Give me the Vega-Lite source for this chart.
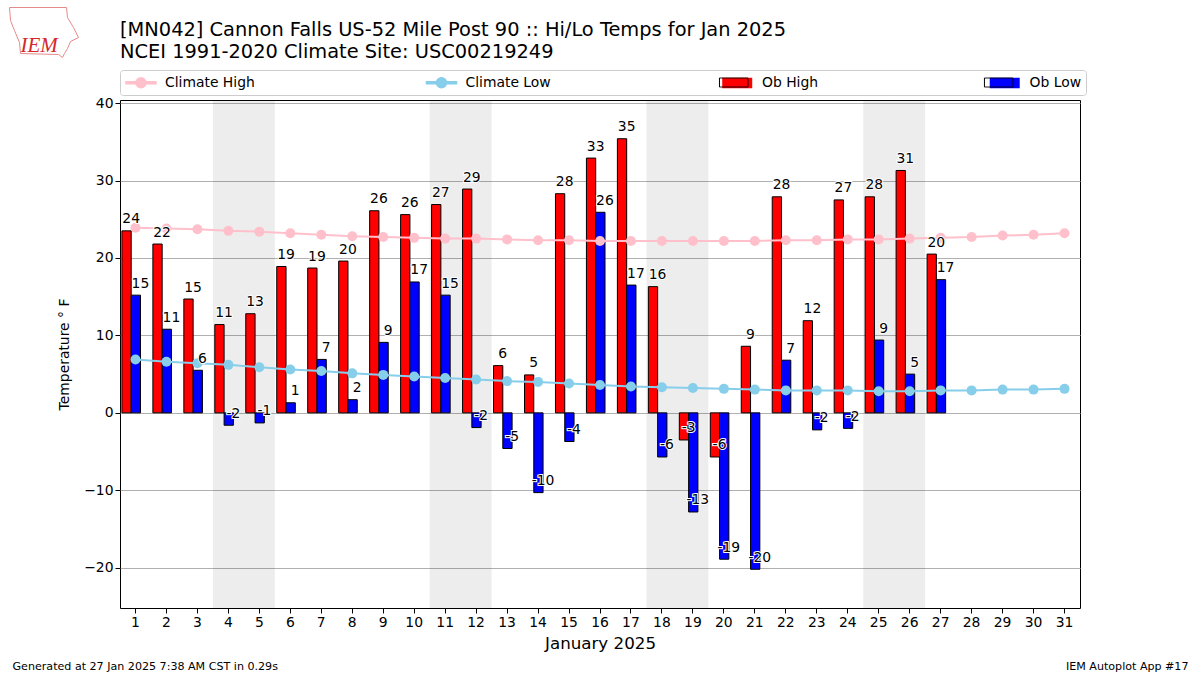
{"$schema":"https://vega.github.io/schema/vega-lite/v6.json","width":960,"height":508,"autosize":{"type":"none"},"padding":{"left":120,"top":100,"right":120,"bottom":67},"background":"white","config":{"font":"DejaVu Sans","view":{"stroke":"black","strokeWidth":1}},"title":{"text":["[MN042] Cannon Falls US-52 Mile Post 90 :: Hi/Lo Temps for Jan 2025","NCEI 1991-2020 Climate Site: USC00219249"],"anchor":"start","frame":"group","fontSize":19.4,"fontWeight":"normal","lineHeight":21.5,"offset":-55,"color":"black"},"datasets":{"obs":[{"day":1,"series":"Ob High","value":23.5,"label":"24"},{"day":2,"series":"Ob High","value":21.8,"label":"22"},{"day":3,"series":"Ob High","value":14.7,"label":"15"},{"day":4,"series":"Ob High","value":11.4,"label":"11"},{"day":5,"series":"Ob High","value":12.8,"label":"13"},{"day":6,"series":"Ob High","value":18.9,"label":"19"},{"day":7,"series":"Ob High","value":18.7,"label":"19"},{"day":8,"series":"Ob High","value":19.6,"label":"20"},{"day":9,"series":"Ob High","value":26.1,"label":"26"},{"day":10,"series":"Ob High","value":25.6,"label":"26"},{"day":11,"series":"Ob High","value":26.9,"label":"27"},{"day":12,"series":"Ob High","value":28.9,"label":"29"},{"day":13,"series":"Ob High","value":6.1,"label":"6"},{"day":14,"series":"Ob High","value":4.9,"label":"5"},{"day":15,"series":"Ob High","value":28.3,"label":"28"},{"day":16,"series":"Ob High","value":32.9,"label":"33"},{"day":17,"series":"Ob High","value":35.4,"label":"35"},{"day":18,"series":"Ob High","value":16.3,"label":"16"},{"day":19,"series":"Ob High","value":-3.5,"label":"-3"},{"day":20,"series":"Ob High","value":-5.7,"label":"-6"},{"day":21,"series":"Ob High","value":8.6,"label":"9"},{"day":22,"series":"Ob High","value":27.9,"label":"28"},{"day":23,"series":"Ob High","value":11.9,"label":"12"},{"day":24,"series":"Ob High","value":27.5,"label":"27"},{"day":25,"series":"Ob High","value":27.9,"label":"28"},{"day":26,"series":"Ob High","value":31.3,"label":"31"},{"day":27,"series":"Ob High","value":20.5,"label":"20"},{"day":1,"series":"Ob Low","value":15.2,"label":"15"},{"day":2,"series":"Ob Low","value":10.8,"label":"11"},{"day":3,"series":"Ob Low","value":5.5,"label":"6"},{"day":4,"series":"Ob Low","value":-1.6,"label":"-2"},{"day":5,"series":"Ob Low","value":-1.3,"label":"-1"},{"day":6,"series":"Ob Low","value":1.3,"label":"1"},{"day":7,"series":"Ob Low","value":6.9,"label":"7"},{"day":8,"series":"Ob Low","value":1.7,"label":"2"},{"day":9,"series":"Ob Low","value":9.1,"label":"9"},{"day":10,"series":"Ob Low","value":16.9,"label":"17"},{"day":11,"series":"Ob Low","value":15.2,"label":"15"},{"day":12,"series":"Ob Low","value":-1.9,"label":"-2"},{"day":13,"series":"Ob Low","value":-4.6,"label":"-5"},{"day":14,"series":"Ob Low","value":-10.3,"label":"-10"},{"day":15,"series":"Ob Low","value":-3.7,"label":"-4"},{"day":16,"series":"Ob Low","value":25.9,"label":"26"},{"day":17,"series":"Ob Low","value":16.5,"label":"17"},{"day":18,"series":"Ob Low","value":-5.7,"label":"-6"},{"day":19,"series":"Ob Low","value":-12.8,"label":"-13"},{"day":20,"series":"Ob Low","value":-18.9,"label":"-19"},{"day":21,"series":"Ob Low","value":-20.2,"label":"-20"},{"day":22,"series":"Ob Low","value":6.8,"label":"7"},{"day":23,"series":"Ob Low","value":-2.2,"label":"-2"},{"day":24,"series":"Ob Low","value":-2.0,"label":"-2"},{"day":25,"series":"Ob Low","value":9.4,"label":"9"},{"day":26,"series":"Ob Low","value":5.0,"label":"5"},{"day":27,"series":"Ob Low","value":17.2,"label":"17"}],"climate":[{"day":1,"series":"Climate High","value":23.9},{"day":2,"series":"Climate High","value":23.8},{"day":3,"series":"Climate High","value":23.7},{"day":4,"series":"Climate High","value":23.5},{"day":5,"series":"Climate High","value":23.4},{"day":6,"series":"Climate High","value":23.2},{"day":7,"series":"Climate High","value":23.0},{"day":8,"series":"Climate High","value":22.8},{"day":9,"series":"Climate High","value":22.7},{"day":10,"series":"Climate High","value":22.6},{"day":11,"series":"Climate High","value":22.5},{"day":12,"series":"Climate High","value":22.5},{"day":13,"series":"Climate High","value":22.4},{"day":14,"series":"Climate High","value":22.3},{"day":15,"series":"Climate High","value":22.3},{"day":16,"series":"Climate High","value":22.2},{"day":17,"series":"Climate High","value":22.2},{"day":18,"series":"Climate High","value":22.2},{"day":19,"series":"Climate High","value":22.2},{"day":20,"series":"Climate High","value":22.2},{"day":21,"series":"Climate High","value":22.2},{"day":22,"series":"Climate High","value":22.3},{"day":23,"series":"Climate High","value":22.3},{"day":24,"series":"Climate High","value":22.4},{"day":25,"series":"Climate High","value":22.4},{"day":26,"series":"Climate High","value":22.5},{"day":27,"series":"Climate High","value":22.6},{"day":28,"series":"Climate High","value":22.7},{"day":29,"series":"Climate High","value":22.9},{"day":30,"series":"Climate High","value":23.0},{"day":31,"series":"Climate High","value":23.2},{"day":1,"series":"Climate Low","value":6.9},{"day":2,"series":"Climate Low","value":6.6},{"day":3,"series":"Climate Low","value":6.4},{"day":4,"series":"Climate Low","value":6.2},{"day":5,"series":"Climate Low","value":5.9},{"day":6,"series":"Climate Low","value":5.6},{"day":7,"series":"Climate Low","value":5.4},{"day":8,"series":"Climate Low","value":5.1},{"day":9,"series":"Climate Low","value":4.9},{"day":10,"series":"Climate Low","value":4.7},{"day":11,"series":"Climate Low","value":4.5},{"day":12,"series":"Climate Low","value":4.3},{"day":13,"series":"Climate Low","value":4.1},{"day":14,"series":"Climate Low","value":4.0},{"day":15,"series":"Climate Low","value":3.8},{"day":16,"series":"Climate Low","value":3.6},{"day":17,"series":"Climate Low","value":3.4},{"day":18,"series":"Climate Low","value":3.3},{"day":19,"series":"Climate Low","value":3.2},{"day":20,"series":"Climate Low","value":3.1},{"day":21,"series":"Climate Low","value":3.0},{"day":22,"series":"Climate Low","value":2.9},{"day":23,"series":"Climate Low","value":2.9},{"day":24,"series":"Climate Low","value":2.9},{"day":25,"series":"Climate Low","value":2.8},{"day":26,"series":"Climate Low","value":2.8},{"day":27,"series":"Climate Low","value":2.9},{"day":28,"series":"Climate Low","value":2.9},{"day":29,"series":"Climate Low","value":3.0},{"day":30,"series":"Climate Low","value":3.0},{"day":31,"series":"Climate Low","value":3.1}],"weekend":[{"day":4},{"day":5},{"day":11},{"day":12},{"day":18},{"day":19},{"day":25},{"day":26}],"legendRows":[{"day":1,"series":"Climate High"},{"day":1,"series":"Climate Low"},{"day":1,"series":"Ob High"},{"day":1,"series":"Ob Low"}],"one":[{"day":1,"outline":"outline","wires":"wires","border":"border"}]},"resolve":{"axis":{"x":"independent"}},"layer":[{"data":{"name":"weekend"},"mark":{"type":"bar","fill":"black","fillOpacity":0.07,"stroke":null},"encoding":{"x":{"field":"day","type":"ordinal","scale":{"domain":[1,2,3,4,5,6,7,8,9,10,11,12,13,14,15,16,17,18,19,20,21,22,23,24,25,26,27,28,29,30,31],"paddingInner":0,"paddingOuter":0},"axis":{"labelAngle":0,"labelFontSize":13.9,"labelColor":"black","tickColor":"black","tickSize":5,"domain":false,"grid":false,"title":"January 2025","titleFontSize":16.7,"titleFontWeight":"normal","titlePadding":7,"titleColor":"black"}}}},{"data":{"name":"obs"},"mark":{"type":"bar","stroke":"black","strokeWidth":1},"encoding":{"x":{"field":"day","type":"ordinal","axis":null},"xOffset":{"field":"series","type":"nominal","scale":{"domain":["Ob High","Ob Low"],"paddingInner":0,"paddingOuter":0.667,"align":0.154}},"y":{"field":"value","type":"quantitative","scale":{"domain":[-25.2,40.4],"nice":false,"zero":false},"axis":{"values":[-20,-10,0,10,20,30,40],"grid":true,"gridColor":"#b0b0b0","gridWidth":1,"domain":false,"labelFontSize":13.9,"labelColor":"black","tickColor":"black","tickSize":5,"title":"Temperature ° F","titleFontSize":13.9,"titleFontWeight":"normal","titleColor":"black","titlePadding":12}},"color":{"field":"series","type":"nominal","scale":{"domain":["Climate High","Climate Low","Ob High","Ob Low"],"range":["pink","skyblue","red","blue"]}}}},{"data":{"name":"climate"},"mark":{"type":"line","strokeWidth":2},"encoding":{"x":{"field":"day","type":"ordinal","axis":null},"y":{"field":"value","type":"quantitative"},"color":{"field":"series","type":"nominal"}}},{"data":{"name":"climate"},"mark":{"type":"circle","size":100,"opacity":1},"encoding":{"x":{"field":"day","type":"ordinal","axis":null},"y":{"field":"value","type":"quantitative"},"color":{"field":"series","type":"nominal"}}},{"data":{"name":"obs"},"mark":{"type":"text","fontSize":13.9,"dx":4.6,"dy":-11.5,"baseline":"middle","align":"center","stroke":"white","strokeWidth":2,"fill":"white"},"encoding":{"x":{"field":"day","type":"ordinal","axis":null},"xOffset":{"field":"series","type":"nominal"},"y":{"field":"value","type":"quantitative"},"text":{"field":"label","type":"nominal"}}},{"data":{"name":"obs"},"mark":{"type":"text","fontSize":13.9,"dx":4.6,"dy":-11.5,"baseline":"middle","align":"center","fill":"black"},"encoding":{"x":{"field":"day","type":"ordinal","axis":null},"xOffset":{"field":"series","type":"nominal"},"y":{"field":"value","type":"quantitative"},"text":{"field":"label","type":"nominal"}}},{"data":{"name":"legendRows"},"mark":{"type":"point","filled":true,"opacity":0},"encoding":{"x":{"field":"day","type":"ordinal","axis":null},"color":{"field":"series","type":"nominal","title":null,"legend":{"orient":"none","legendX":0,"legendY":-30,"direction":"horizontal","columns":4,"columnPadding":167.5,"padding":4,"strokeColor":"#cccccc","cornerRadius":3,"symbolSize":225,"symbolOpacity":1,"labelOffset":24,"labelFontSize":13.9,"labelColor":"black","title":null,"encoding":{"symbols":{"fill":{"signal":"scale('color',datum.value)"}}}}},"shape":{"field":"series","type":"nominal","title":null,"scale":{"domain":["Climate High","Climate Low","Ob High","Ob Low"],"range":["M-0.87,-0.13H3.13V0.13H-0.87Z M1.13,-0.67A0.67,0.67 0 1,1 1.13,0.67A0.67,0.67 0 1,1 1.13,-0.67Z","M-0.87,-0.13H3.13V0.13H-0.87Z M1.13,-0.67A0.67,0.67 0 1,1 1.13,0.67A0.67,0.67 0 1,1 1.13,-0.67Z","M-0.87,-0.6H2.93V0.6H-0.87Z","M-0.87,-0.6H2.93V0.6H-0.87Z"]},"legend":{"orient":"none","legendX":0,"legendY":-30,"direction":"horizontal","columns":4,"title":null}}}},{"data":{"name":"one"},"mark":{"type":"point","opacity":0},"encoding":{"x":{"field":"day","type":"ordinal","axis":{"labels":false,"ticks":false,"domain":false,"grid":false,"title":"Generated at 27 Jan 2025 7:38 AM CST in 0.29s","titleFontSize":11.1,"titleFontWeight":"normal","titleColor":"black","titleAlign":"left","titleX":-108,"titleY":566,"titleBaseline":"middle"}}}},{"data":{"name":"one"},"mark":{"type":"point","opacity":0},"encoding":{"x":{"field":"day","type":"ordinal","axis":{"labels":false,"ticks":false,"domain":false,"grid":false,"title":"IEM Autoplot App #17","titleFontSize":11.1,"titleFontWeight":"normal","titleColor":"black","titleAlign":"right","titleX":1068,"titleY":566,"titleBaseline":"middle"}}}},{"data":{"name":"one"},"mark":{"type":"point","opacity":0},"encoding":{"x":{"field":"day","type":"ordinal","axis":{"labels":false,"ticks":false,"domain":false,"grid":false,"title":"IEM","titleFont":"Liberation Serif","titleFontSize":21,"titleFontStyle":"italic","titleFontWeight":"normal","titleColor":"#d62728","titleAlign":"left","titleX":-100,"titleY":-55,"titleBaseline":"middle"}}}},{"data":{"name":"one"},"mark":{"type":"point","opacity":0},"encoding":{"x":{"field":"day","type":"ordinal","axis":null},"size":{"field":"outline","type":"nominal","scale":{"domain":["outline"],"range":[2500,2500]},"legend":{"orient":"none","legendX":-101,"legendY":-93,"padding":0,"title":null,"symbolType":"M-1.4,-1L0.88,-1L0.92,-0.6L1.16,-0.2L1.36,0.2L1.04,0.36L0.92,0.64L0.8,0.84L0.72,1L0.56,0.88L-0.96,0.84L-1,0.4L-1.2,-0.08L-1.36,-0.48Z","symbolFillColor":"transparent","symbolStrokeColor":"#e58a8a","symbolStrokeWidth":1,"symbolOpacity":1,"labelExpr":"''","labelOffset":0,"labelFontSize":1}}}},{"data":{"name":"one"},"mark":{"type":"point","filled":true,"opacity":0},"encoding":{"x":{"field":"day","type":"ordinal","axis":null},"strokeWidth":{"field":"wires","type":"ordinal","scale":{"domain":["wires"],"range":[0,0]},"legend":{"orient":"none","legendX":-101,"legendY":-93,"padding":0,"title":null,"symbolSize":2500,"symbolType":"M-0.52,-0.26L0.88,-0.32L0.88,-0.26L-0.52,-0.18Z M-0.64,-0.2A0.12,0.12 0 1,1 -0.4,-0.2A0.12,0.12 0 1,1 -0.64,-0.2Z M0.16,-0.68L0.36,-0.68L0.68,-0.36L0.5,-0.38Z M-0.74,-0.8L-0.68,-0.8L-0.48,-0.3L-0.54,-0.3Z M0.62,-0.25L0.7,-0.25L0.74,0.22L0.66,0.22Z M-0.88,-0.16L-0.76,-0.16L-0.76,-0.06L-0.88,-0.06Z","symbolFillColor":"#1a1ad6","symbolStrokeColor":"#1a1ad6","symbolOpacity":1,"labelExpr":"''","labelOffset":0,"labelFontSize":1}}}},{"data":{"name":"one"},"mark":{"type":"point","opacity":0},"encoding":{"x":{"field":"day","type":"ordinal","axis":null},"strokeDash":{"field":"border","type":"nominal","scale":{"domain":["border"],"range":[[1,0]]},"legend":{"orient":"none","legendX":598,"legendY":-25.5,"padding":0,"title":null,"symbolSize":225,"symbolType":"M-0.87,-0.6H2.93V0.6H-0.87Z M34.46,-0.6H38.26V0.6H34.46Z","symbolFillColor":"transparent","symbolStrokeColor":"black","symbolStrokeWidth":1,"symbolOpacity":1,"labelExpr":"''","labelOffset":0,"labelFontSize":1}}}}]}
